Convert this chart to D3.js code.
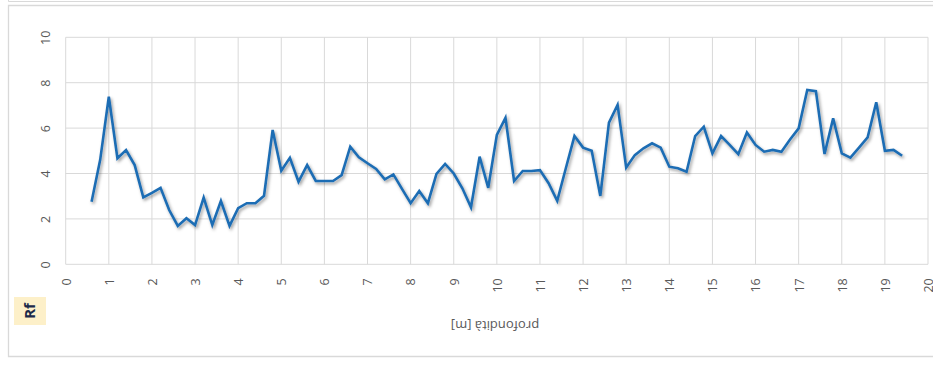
<!DOCTYPE html>
<html>
<head>
<meta charset="utf-8">
<script src="https://cdn.jsdelivr.net/npm/d3@7"></script>
<style>
  body { margin: 0; background: #fff; }
  svg { display: block; }
</style>
</head>
<body>
<svg width="933" height="372"></svg>
<script>
var width = 933;
var height = 372;

// depth [m] and Rf values
var depths = [0.6, 0.8, 1.0, 1.2, 1.4, 1.6, 1.8, 2.0, 2.2, 2.4, 2.6, 2.8, 3.0, 3.2, 3.4, 3.6, 3.8,
  4.0, 4.2, 4.4, 4.6, 4.8, 5.0, 5.2, 5.4, 5.6, 5.8, 6.0, 6.2, 6.4, 6.6, 6.8, 7.0, 7.2, 7.4, 7.6, 7.8,
  8.0, 8.2, 8.4, 8.6, 8.8, 9.0, 9.2, 9.4, 9.6, 9.8, 10.0, 10.2, 10.4, 10.6, 10.8, 11.0, 11.2, 11.4,
  11.6, 11.8, 12.0, 12.2, 12.4, 12.6, 12.8, 13.0, 13.2, 13.4, 13.6, 13.8, 14.0, 14.2, 14.4, 14.6,
  14.8, 15.0, 15.2, 15.4, 15.6, 15.8, 16.0, 16.2, 16.4, 16.6, 16.8, 17.0, 17.2, 17.4, 17.6, 17.8,
  18.0, 18.2, 18.4, 18.6, 18.8, 19.0, 19.2, 19.4];
var rf = [2.76, 4.6, 7.38, 4.67, 5.03, 4.37, 2.95, 3.15, 3.37, 2.39, 1.69, 2.03, 1.73, 2.94, 1.73, 2.79, 1.69,
  2.47, 2.69, 2.69, 3.02, 5.92, 4.12, 4.69, 3.64, 4.37, 3.67, 3.67, 3.67, 3.93, 5.18, 4.71, 4.45, 4.2, 3.74, 3.96, 3.32,
  2.69, 3.23, 2.69, 3.98, 4.42, 4.0, 3.35, 2.51, 4.74, 3.37, 5.7, 6.45, 3.67, 4.11, 4.11, 4.15, 3.57, 2.8,
  4.23, 5.65, 5.14, 5.0, 3.01, 6.24, 7.02, 4.26, 4.81, 5.11, 5.33, 5.14, 4.3, 4.23, 4.08, 5.65,
  6.06, 4.89, 5.65, 5.26, 4.85, 5.81, 5.26, 4.96, 5.04, 4.96, 5.5, 5.99, 7.68, 7.63, 4.86, 6.43,
  4.89, 4.7, 5.14, 5.59, 7.14, 5.0, 5.04, 4.78];
var xTicks = [0, 1, 2, 3, 4, 5, 6, 7, 8, 9, 10, 11, 12, 13, 14, 15, 16, 17, 18, 19, 20];
var yTicks = [0, 2, 4, 6, 8, 10];
var xTitle = 'profondità [m]';
var yTitle = 'Rf';

var data = depths.map(function(d, i) { return { depth: d, rf: rf[i] }; });

var plot = { left: 65.7, right: 928, top: 37.3, bottom: 264.3 };

var xScale = d3.scaleLinear().domain([0, 20]).range([plot.left, plot.right]);
var yScale = d3.scaleLinear().domain([0, 10]).range([plot.bottom, plot.top]);

var svg = d3.select('svg');

// shadow under the line, like the spreadsheet export
var defs = svg.append('defs');
var shadow = defs.append('filter').attr('id', 'shadow')
  .attr('x', '-5%').attr('y', '-10%').attr('width', '110%').attr('height', '130%');
shadow.append('feDropShadow')
  .attr('dx', 1.5).attr('dy', 2)
  .attr('stdDeviation', 1.4)
  .attr('flood-color', '#000')
  .attr('flood-opacity', 0.38);

// frames
svg.append('path')
  .attr('d', 'M8.5,0 V1.5 H933')
  .attr('fill', 'none').attr('stroke', '#d9d9d9').attr('stroke-width', 1);
svg.append('path')
  .attr('d', 'M940,5.5 H8.5 V356.5 H940')
  .attr('fill', 'none').attr('stroke', '#d9d9d9').attr('stroke-width', 1.3);

// gridlines
var grid = svg.append('g');
grid.selectAll('line.v').data(xTicks).enter()
  .append('line').attr('class', 'v')
  .attr('x1', function(d) { return xScale(d); })
  .attr('x2', function(d) { return xScale(d); })
  .attr('y1', plot.top).attr('y2', plot.bottom)
  .attr('stroke', '#d9d9d9').attr('stroke-width', 1);
grid.selectAll('line.h').data(yTicks).enter()
  .append('line').attr('class', 'h')
  .attr('x1', plot.left).attr('x2', plot.right)
  .attr('y1', function(d) { return yScale(d); })
  .attr('y2', function(d) { return yScale(d); })
  .attr('stroke', '#d9d9d9').attr('stroke-width', 1);

// axes, rotated labels
var axisBottom = d3.axisBottom(xScale).tickValues(xTicks).tickSize(0).tickPadding(0).tickFormat(d3.format('d'));
var gx = svg.append('g').attr('transform', 'translate(0,' + plot.bottom + ')').call(axisBottom);
gx.select('.domain').remove();
gx.selectAll('text')
  .attr('font-family', '"Open Sans", sans-serif')
  .attr('font-size', '12.5px')
  .attr('fill', '#595959')
  .attr('text-anchor', 'end')
  .attr('dy', '0.35em')
  .attr('y', 0)
  .attr('transform', 'translate(0,14) rotate(-90)');

var axisLeft = d3.axisLeft(yScale).tickValues(yTicks).tickSize(0).tickPadding(0).tickFormat(d3.format('d'));
var gy = svg.append('g').attr('transform', 'translate(0,0)').call(axisLeft);
gy.select('.domain').remove();
gy.selectAll('text')
  .attr('font-family', '"Open Sans", sans-serif')
  .attr('font-size', '12.5px')
  .attr('fill', '#595959')
  .attr('text-anchor', 'middle')
  .attr('x', 0)
  .attr('dy', '0.35em')
  .attr('transform', 'translate(45.5,0) rotate(-90)');

// the line
var line = d3.line()
  .x(function(d) { return xScale(d.depth); })
  .y(function(d) { return yScale(d.rf); });
svg.append('path')
  .datum(data)
  .attr('d', line)
  .attr('fill', 'none')
  .attr('stroke', '#1f6db4')
  .attr('stroke-width', 2.6)
  .attr('stroke-linejoin', 'miter')
  .attr('filter', 'url(#shadow)');

// x title, upside down
svg.append('text')
  .attr('transform', 'translate(495,326) rotate(180)')
  .attr('text-anchor', 'middle')
  .attr('dy', '0.35em')
  .attr('font-family', '"Open Sans", sans-serif')
  .attr('font-size', '13px')
  .attr('fill', '#595959')
  .text(xTitle);

// Rf label in its box
svg.append('rect')
  .attr('x', 14).attr('y', 297)
  .attr('width', 32).attr('height', 28)
  .attr('fill', '#fdf0c9');
svg.append('text')
  .attr('transform', 'translate(30,311) rotate(-90)')
  .attr('text-anchor', 'middle')
  .attr('dy', '0.36em')
  .attr('font-family', '"Open Sans", sans-serif')
  .attr('font-weight', 'bold')
  .attr('font-size', '15px')
  .attr('fill', '#1c2a4a')
  .text(yTitle);
</script>
</body>
</html>
